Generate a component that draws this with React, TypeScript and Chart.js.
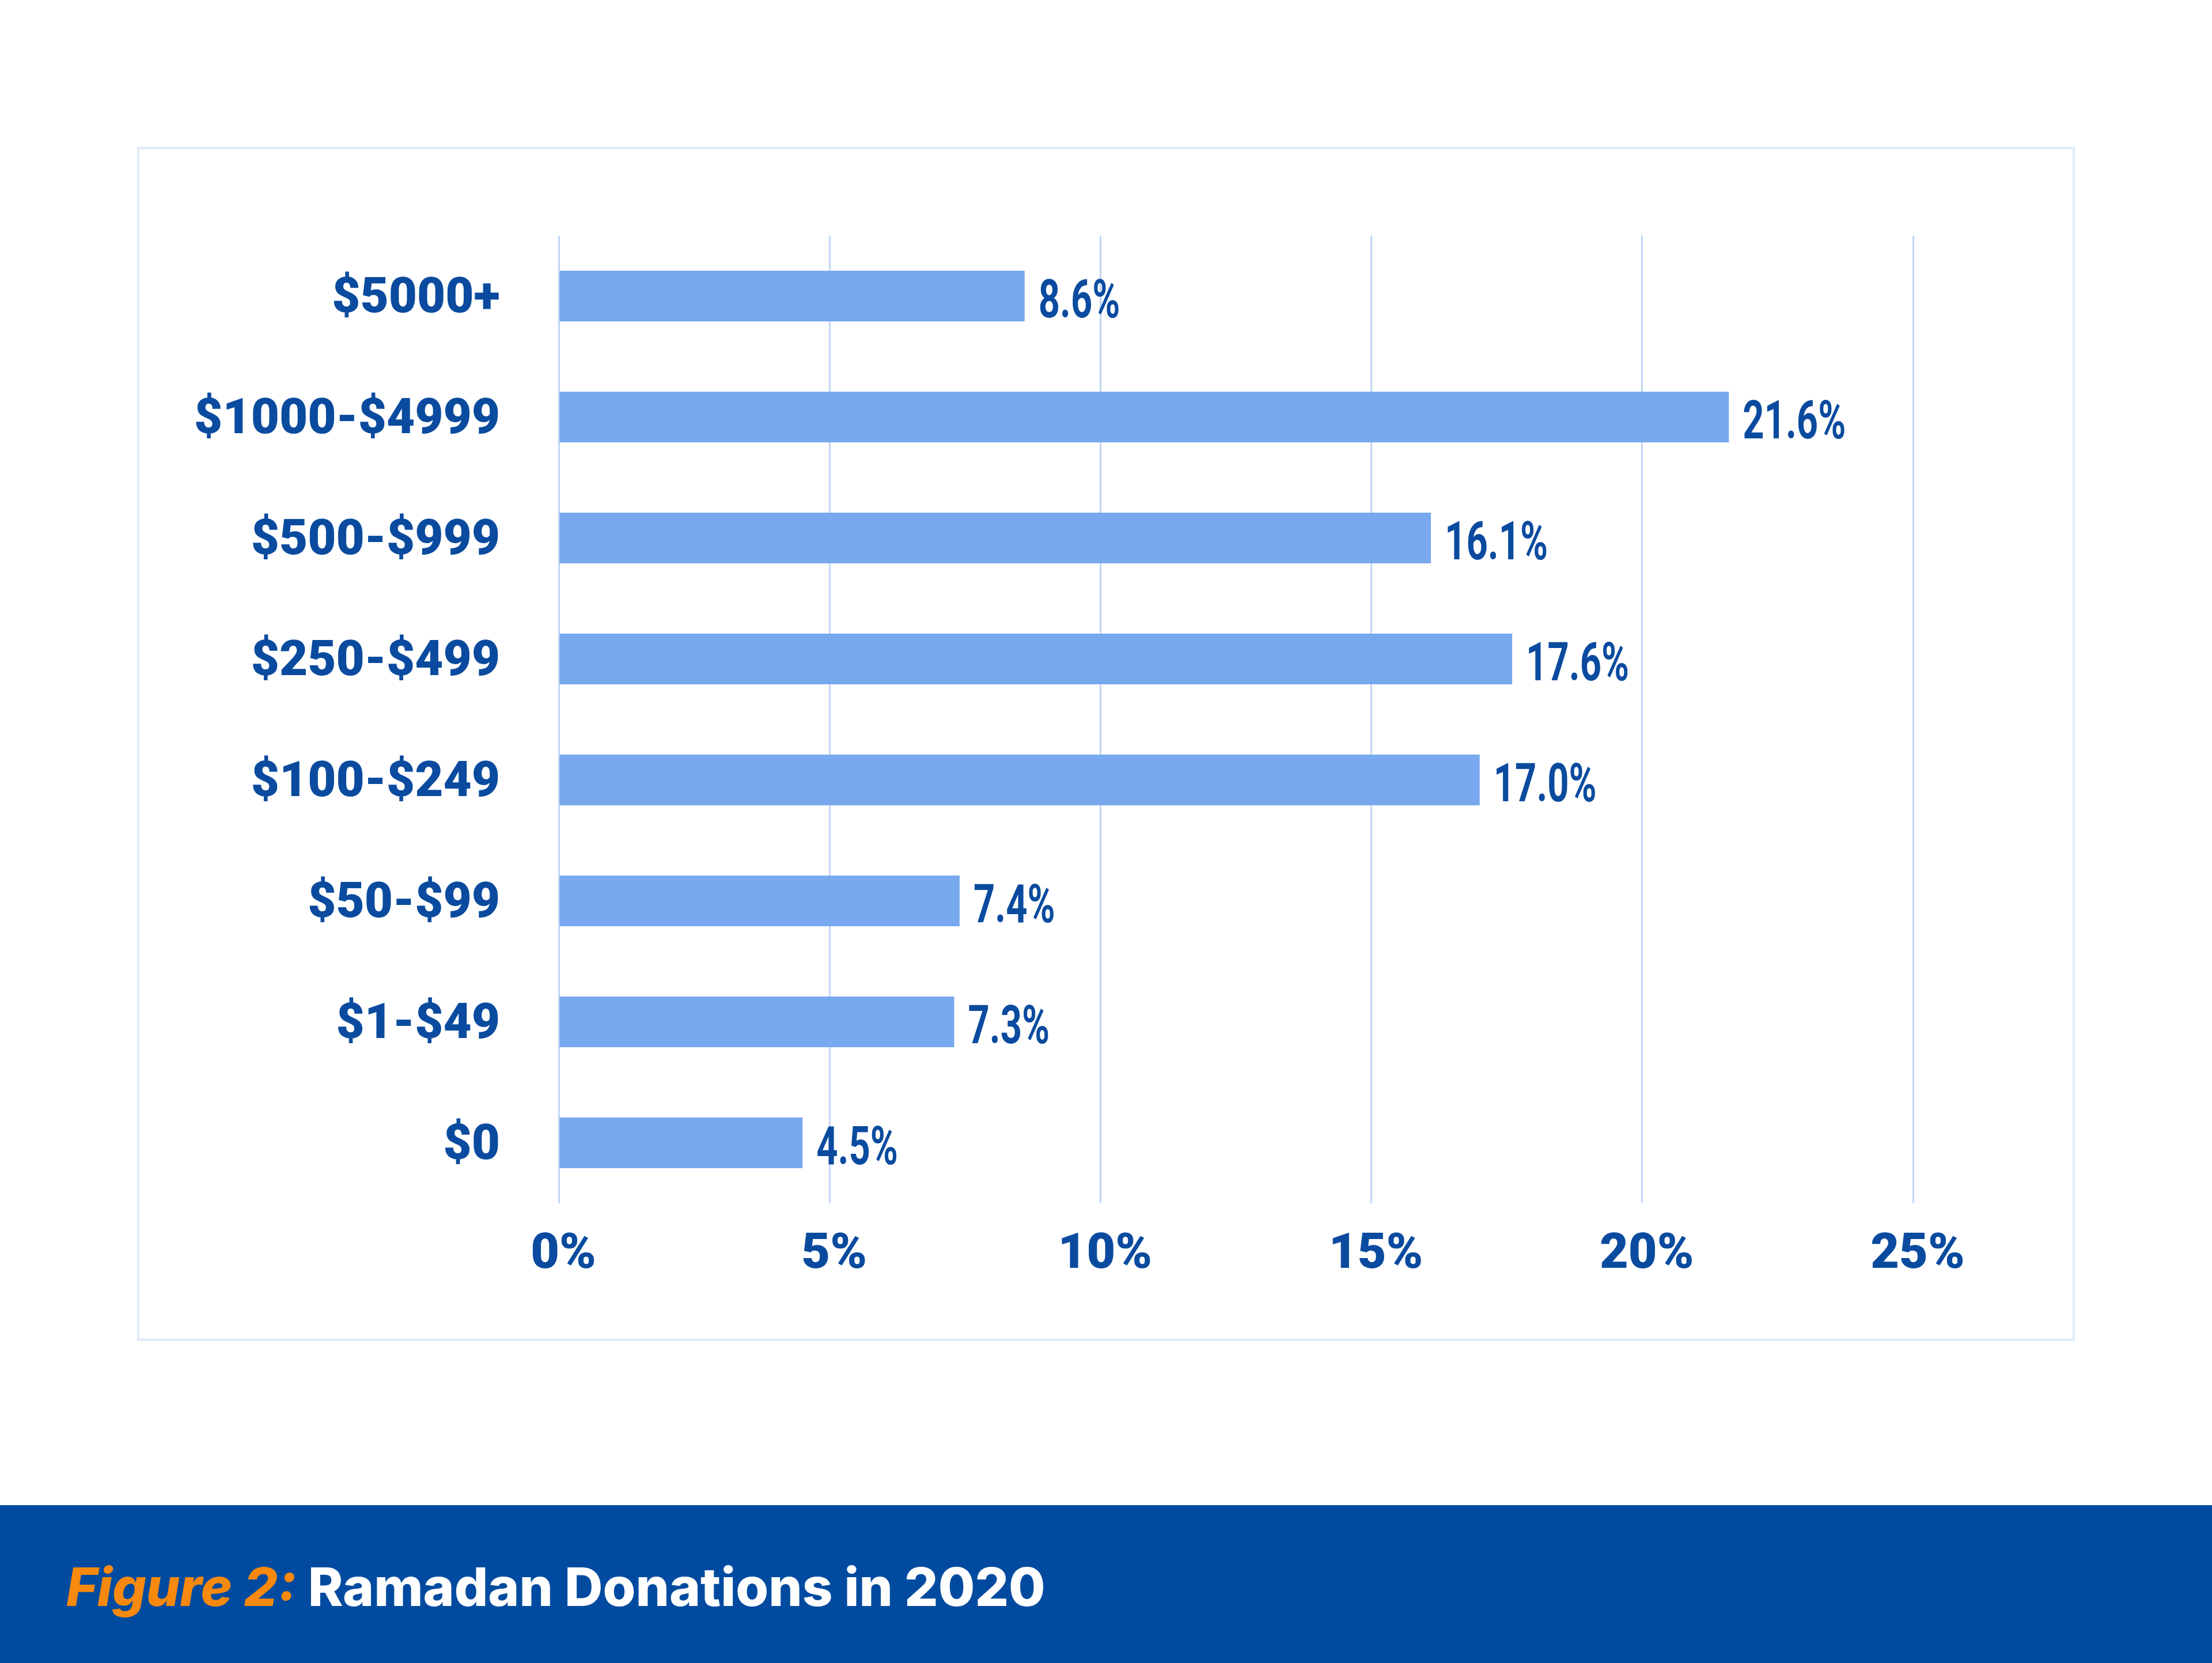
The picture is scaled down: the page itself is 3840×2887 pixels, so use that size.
import React, { useEffect, useRef } from 'react';
import { Chart, registerables } from 'chart.js';

Chart.register(...registerables);

const categories = ['$5000+', '$1000-$4999', '$500-$999', '$250-$499', '$100-$249', '$50-$99', '$1-$49', '$0'];
const shares = [8.6, 21.6, 16.1, 17.6, 17.0, 7.4, 7.3, 4.5];
const xMin = 0;
const xMax = 25;
const xStep = 5;
const captionLead = 'Figure 2:';
const captionText = 'Ramadan Donations in 2020';

const TEXT = '#0a4b9f';
const BAR = '#78a8ee';
const GRID = '#c0d6f5';
const FRAME = '#dfeafa';
const BAND = '#004b9f';
const ORANGE = '#f7890e';

const W = 3840;
const H = 2887;
const CANVAS_H = 2613;

const valueLabels = {
  id: 'valueLabels',
  afterDatasetsDraw(chart: any) {
    const ctx = chart.ctx;
    const meta = chart.getDatasetMeta(0);
    const data = chart.data.datasets[0].data as number[];
    ctx.save();
    ctx.fillStyle = TEXT;
    ctx.font = '700 93px Roboto';
    ctx.textBaseline = 'middle';
    ctx.textAlign = 'left';
    meta.data.forEach((bar: any, i: number) => {
      const label = data[i].toFixed(1) + '%';
      ctx.save();
      ctx.translate(bar.x + 24, bar.y + 14);
      ctx.scale(0.7, 1);
      ctx.fillText(label, 0, 0);
      ctx.restore();
    });
    ctx.restore();
  },
};

export default function App() {
  const ref = useRef<HTMLCanvasElement | null>(null);

  useEffect(() => {
    document.body.style.margin = '0';
    const canvas = ref.current;
    if (!canvas) return;
    const chart = new Chart(canvas, {
      type: 'bar',
      data: {
        labels: categories,
        datasets: [
          {
            data: shares,
            backgroundColor: BAR,
            borderWidth: 0,
            categoryPercentage: 1,
            barPercentage: 0.42,
          },
        ],
      },
      options: {
        indexAxis: 'y',
        responsive: false,
        animation: false,
        devicePixelRatio: 1,
        layout: { padding: { top: 409, right: W - 3321, bottom: CANVAS_H - 2089 - 200, left: 0 } },
        plugins: {
          legend: { display: false },
          tooltip: { enabled: false },
          title: { display: false },
        },
        scales: {
          x: {
            type: 'linear',
            min: xMin,
            max: xMax,
            position: 'bottom',
            ticks: {
              stepSize: xStep,
              color: TEXT,
              padding: 39,
              labelOffset: 8,
              font: { family: 'Roboto', weight: '900', size: 86 },
              callback: (v: any) => `${v}%`,
            },
            grid: { color: GRID, lineWidth: 3, drawTicks: false },
            border: { display: false },
            afterFit: (s: any) => {
              s.height = 200;
            },
          },
          y: {
            type: 'category',
            ticks: {
              color: TEXT,
              padding: 102,
              labelOffset: 7,
              font: { family: 'Roboto', weight: '900', size: 85 },
            },
            grid: { display: false, drawTicks: false },
            border: { display: false },
            afterFit: (s: any) => {
              s.width = 970;
            },
          },
        },
      },
      plugins: [valueLabels],
    });
    return () => chart.destroy();
  }, []);

  return (
    <div style={{ position: 'absolute', left: 0, top: 0, width: W, height: H, background: '#ffffff', overflow: 'hidden' }}>
      <div
        style={{
          position: 'absolute',
          left: 238,
          top: 255,
          width: 3602 - 238,
          height: 2328 - 255,
          border: `4px solid ${FRAME}`,
          boxSizing: 'border-box',
        }}
      />
      <canvas
        ref={ref}
        width={W}
        height={CANVAS_H}
        style={{ position: 'absolute', left: 0, top: 0, width: W, height: CANVAS_H }}
      />
      <div
        style={{
          position: 'absolute',
          left: 0,
          top: CANVAS_H,
          width: W,
          height: H - CANVAS_H,
          background: BAND,
        }}
      >
        <div
          style={{
            position: 'absolute',
            left: 115,
            top: 96,
            fontFamily: 'Inter',
            fontWeight: 800,
            fontSize: 92,
            lineHeight: '92px',
            whiteSpace: 'nowrap',
            color: '#ffffff',
          }}
        >
          <span style={{ color: ORANGE, fontStyle: 'italic' }}>{captionLead}</span> {captionText}
        </div>
      </div>
    </div>
  );
}
